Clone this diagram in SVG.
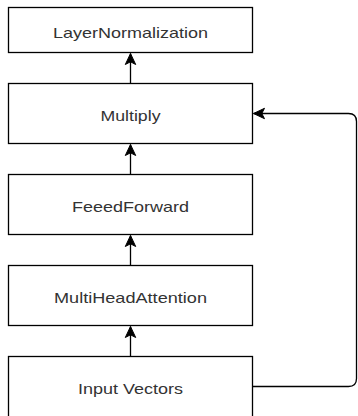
<svg xmlns="http://www.w3.org/2000/svg" width="358" height="416" viewBox="0 0 358 416">
  <style>
    .box { fill: #ffffff; stroke: #000000; stroke-width: 1.3; }
    .lbl { font-family: "Liberation Sans", Arial, sans-serif; font-size: 15px; fill: #333333; text-anchor: middle; }
    .edge { fill: none; stroke: #000000; stroke-width: 1.3; }
  </style>
  <defs>
    <marker id="arr" markerUnits="userSpaceOnUse" markerWidth="14" markerHeight="14" viewBox="0 0 14 14" refX="12.5" refY="7" orient="auto">
      <path d="M1.5,1.8 L12.5,7 L1.5,12.2 L4.2,7 Z" fill="#000000" stroke="#000000" stroke-width="1"/>
    </marker>
  </defs>
  <rect width="358" height="416" fill="#ffffff"/>
  <g id="connectors">
    <line class="edge" x1="130.5" y1="83.5" x2="130.5" y2="53.5" marker-end="url(#arr)"/>
    <line class="edge" x1="130.5" y1="174.5" x2="130.5" y2="144.5" marker-end="url(#arr)"/>
    <line class="edge" x1="130.5" y1="265.5" x2="130.5" y2="235.5" marker-end="url(#arr)"/>
    <line class="edge" x1="130.5" y1="356.5" x2="130.5" y2="326.5" marker-end="url(#arr)"/>
    <path class="edge" d="M252.5,386.5 H348.5 Q356.5,386.5 356.5,378.5 V121.5 Q356.5,113.5 348.5,113.5 H253.5" marker-end="url(#arr)"/>
  </g>
  <g id="layernorm">
    <rect class="box" x="8.5" y="7.5" width="244" height="45"/>
    <text class="lbl" x="130.5" y="37.5" textLength="155" lengthAdjust="spacingAndGlyphs">LayerNormalization</text>
  </g>
  <g id="multiply">
    <rect class="box" x="8.5" y="83.5" width="244" height="60"/>
    <text class="lbl" x="130.5" y="121" textLength="60" lengthAdjust="spacingAndGlyphs">Multiply</text>
  </g>
  <g id="feedforward">
    <rect class="box" x="8.5" y="174.5" width="244" height="60"/>
    <text class="lbl" x="130.5" y="212" textLength="117" lengthAdjust="spacingAndGlyphs">FeeedForward</text>
  </g>
  <g id="mha">
    <rect class="box" x="8.5" y="265.5" width="244" height="60"/>
    <text class="lbl" x="130.5" y="303" textLength="153" lengthAdjust="spacingAndGlyphs">MultiHeadAttention</text>
  </g>
  <g id="input">
    <rect class="box" x="8.5" y="356.5" width="244" height="61"/>
    <text class="lbl" x="130.5" y="394" textLength="105" lengthAdjust="spacingAndGlyphs">Input Vectors</text>
  </g>
</svg>
